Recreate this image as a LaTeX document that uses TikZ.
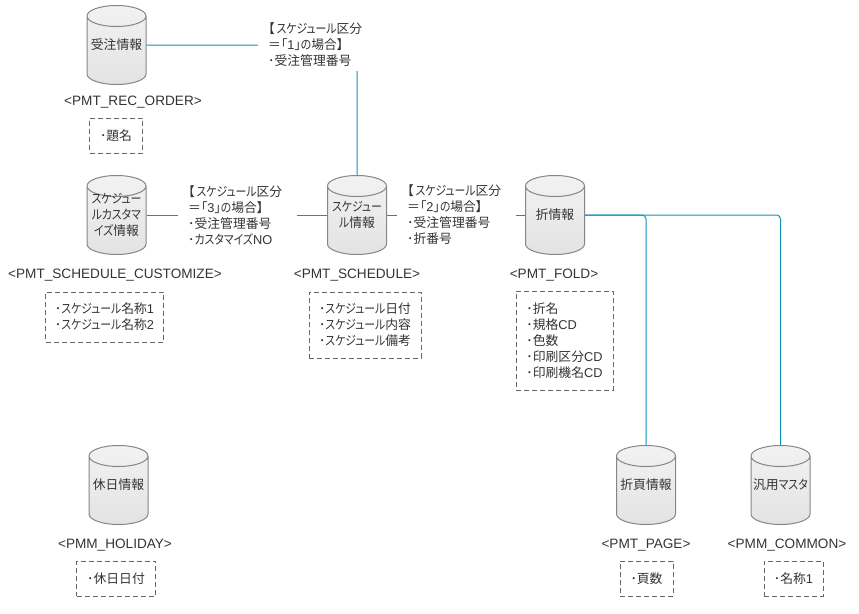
\documentclass[tikz,border=0pt]{standalone}
\usepackage{fontspec}
\setmainfont{Liberation Sans}
\newfontfamily\jpfont[RawFeature=+palt]{Noto Sans CJK JP}
\newfontfamily\kanafont[RawFeature=+palt,FakeStretch=0.85]{Noto Sans CJK JP}
\newcommand{\kana}[1]{{\kanafont #1}}
\newcommand{\latn}[1]{{\rmfamily #1}}
\newcommand{\tablespace}{\phantom{\rule{50pt}{16pt}}}
\usetikzlibrary{shapes.geometric}
\definecolor{linkblue}{HTML}{1090BC}
\definecolor{inkgray}{HTML}{333333}
\tikzset{
    table/.style={cylinder, shape border rotate=90, aspect=0.42, anchor=shape center, draw=gray!95, line width=1pt,
        minimum width=59pt, minimum height=79pt, inner sep=0pt, top color=gray!10, bottom color=gray!22},
    tabletext/.style={align=center, inner sep=0pt, text=inkgray, font=\jpfont\fontsize{12.8}{16}\selectfont},
    tablename/.style={text=inkgray, font=\fontsize{13.6}{15}\selectfont},
    attrbox/.style={draw=gray!120, line width=1pt, dash pattern=on 5pt off 3pt, align=left,
        text=inkgray, font=\jpfont\fontsize{12.8}{16}\selectfont},
    keynote/.style={anchor=west, fill=white, text width=99pt, inner xsep=10pt, inner ysep=4pt, align=left,
        text=inkgray, font=\jpfont\fontsize{12.8}{16}\selectfont},
    link/.style={linkblue, line width=1pt, rounded corners=4pt}
}
\begin{document}
\begin{tikzpicture}[x=1pt,y=-1pt]
    \useasboundingbox (0,0) rectangle (859,613);

    % Tables
    \node[table] (order) at (116.5,45) {\tablespace};
    \node[table] (custom) at (116.5,215) {\tablespace};
    \node[table] (schedule) at (357,215) {\tablespace};
    \node[table] (fold) at (555,215) {\tablespace};
    \node[table] (holiday) at (118.5,485) {\tablespace};
    \node[table] (page) at (646,485) {\tablespace};
    \node[table] (common) at (780.5,485) {\tablespace};

    % Table captions
    \node[tabletext] (ordertext) at (order.shape center) {受注情報};
    \node[tabletext] (customtext) at (custom.shape center) {\kana{スケジュー}\\\kana{ルカスタマ}\\\kana{イズ}情報};
    \node[tabletext] (scheduletext) at (schedule.shape center) {\kana{スケジュー}\\\kana{ル}情報};
    \node[tabletext] (foldtext) at (fold.shape center) {折情報};
    \node[tabletext] (holidaytext) at (holiday.shape center) {休日情報};
    \node[tabletext] (pagetext) at (page.shape center) {折頁情報};
    \node[tabletext] (commontext) at (common.shape center) {汎用\kana{マスタ}};

    % Connectors, the notes cover them further down
    \draw[link] (order.shape center -| order.east) -| (schedule.north);
    \draw[link] (custom.shape center -| custom.east) -- (schedule.shape center -| schedule.west);
    \draw[link] (schedule.shape center -| schedule.east) -- (fold.shape center -| fold.west);
    \draw[link] (fold.shape center -| fold.east) -| (page.north);
    \draw[link] (fold.shape center -| fold.east) -| (common.north);

    % Key notes
    \node[keynote] (note1) at (258,45) {【\kern2pt\kana{スケジュール}区分\\＝「\latn{1}」\kana{の}場合】\\･受注管理番号};
    \node[keynote] (note3) at (178,215) {【\kern2pt\kana{スケジュール}区分\\＝「\latn{3}」\kana{の}場合】\\･受注管理番号\\･\kana{カスタマイズ}\latn{NO}};
    \node[keynote] (note2) at (397,215) {【\kern2pt\kana{スケジュール}区分\\＝「\latn{2}」\kana{の}場合】\\･受注管理番号\\･折番号};

    % Physical names
    \node[tablename] (ordername) at (133,102) {<PMT\_REC\_ORDER>};
    \node[tablename] (customname) at (115,275) {<PMT\_SCHEDULE\_CUSTOMIZE>};
    \node[tablename] (schedulename) at (357,275) {<PMT\_SCHEDULE>};
    \node[tablename] (foldname) at (554,275) {<PMT\_FOLD>};
    \node[tablename] (holidayname) at (115,545) {<PMM\_HOLIDAY>};
    \node[tablename] (pagename) at (646,545) {<PMT\_PAGE>};
    \node[tablename] (commonname) at (787,545) {<PMM\_COMMON>};

    % Attributes
    \node[attrbox, minimum width=53pt, minimum height=35pt] (orderattr) at (116,135.5) {･題名};
    \node[attrbox, minimum width=118pt, minimum height=50pt] (customattr) at (104.5,317) {･\kana{スケジュール}名称\latn{1}\\･\kana{スケジュール}名称\latn{2}};
    \node[attrbox, minimum width=112pt, minimum height=66pt] (scheduleattr) at (365,325) {･\kana{スケジュール}日付\\･\kana{スケジュール}内容\\･\kana{スケジュール}備考};
    \node[attrbox, minimum width=97pt, minimum height=99pt] (foldattr) at (564.5,340.5) {･折名\\･規格\latn{CD}\\･色数\\･印刷区分\latn{CD}\\･印刷機名\latn{CD}};
    \node[attrbox, minimum width=79pt, minimum height=35pt] (holidayattr) at (116,578.5) {･休日日付};
    \node[attrbox, minimum width=53pt, minimum height=35pt] (pageattr) at (646.5,578.5) {･頁数};
    \node[attrbox, minimum width=59pt, minimum height=35pt] (commonattr) at (793.5,578.5) {･名称\latn{1}};
\end{tikzpicture}
\end{document}
